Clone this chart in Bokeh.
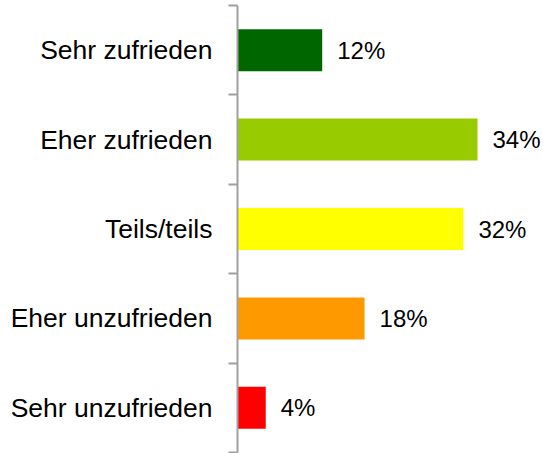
from bokeh.plotting import figure
from bokeh.models import Range1d, FixedTicker, ColumnDataSource
from bokeh.core.properties import value
from bokeh.embed import file_html
from bokeh.resources import INLINE

categories = ["Sehr zufrieden", "Eher zufrieden", "Teils/teils", "Eher unzufrieden", "Sehr unzufrieden"]
values = [12, 34, 32, 18, 4]
colors = ["#006600", "#99CC00", "#FFFF00", "#FF9900", "#FF0000"]
labels = [f"{v}%" for v in values]

n = len(categories)
centers = [i + 0.5 for i in range(n)]

src = ColumnDataSource(dict(y=centers, v=values, c=colors, lab=labels))

p = figure(width=543, height=453, output_backend="svg", toolbar_location=None,
           x_range=Range1d(0, 43.35), y_range=Range1d(n, 0),
           min_border_top=5, min_border_bottom=1, min_border_right=0, min_border_left=237,
           outline_line_color=None, background_fill_color="white", border_fill_color="white")

p.hbar(y="y", right="v", left=0, height=0.47, fill_color="c", line_color=None, source=src)
p.text(x="v", y="y", text="lab", source=src, x_offset=15, text_baseline="middle",
       text_align="left", text_font=value("Liberation Sans"), text_font_size="24px", text_color="#000000")

p.xaxis.visible = False
p.grid.visible = False

ya = p.yaxis[0]
ya.ticker = FixedTicker(ticks=centers, minor_ticks=list(range(n + 1)))
ya.major_label_overrides = {c: cat for c, cat in zip(centers, categories)}
ya.major_tick_out = 0
ya.major_tick_in = 0
ya.minor_tick_out = 9
ya.minor_tick_in = 0
ya.minor_tick_line_color = "#A0A0A0"
ya.minor_tick_line_width = 2
ya.axis_line_color = "#A0A0A0"
ya.axis_line_width = 2
ya.major_label_standoff = 16
ya.major_label_text_font = "Liberation Sans"
ya.major_label_text_font_size = "26.5px"
ya.major_label_text_color = "#000000"

open("out.html", "w").write(file_html(p, INLINE))
